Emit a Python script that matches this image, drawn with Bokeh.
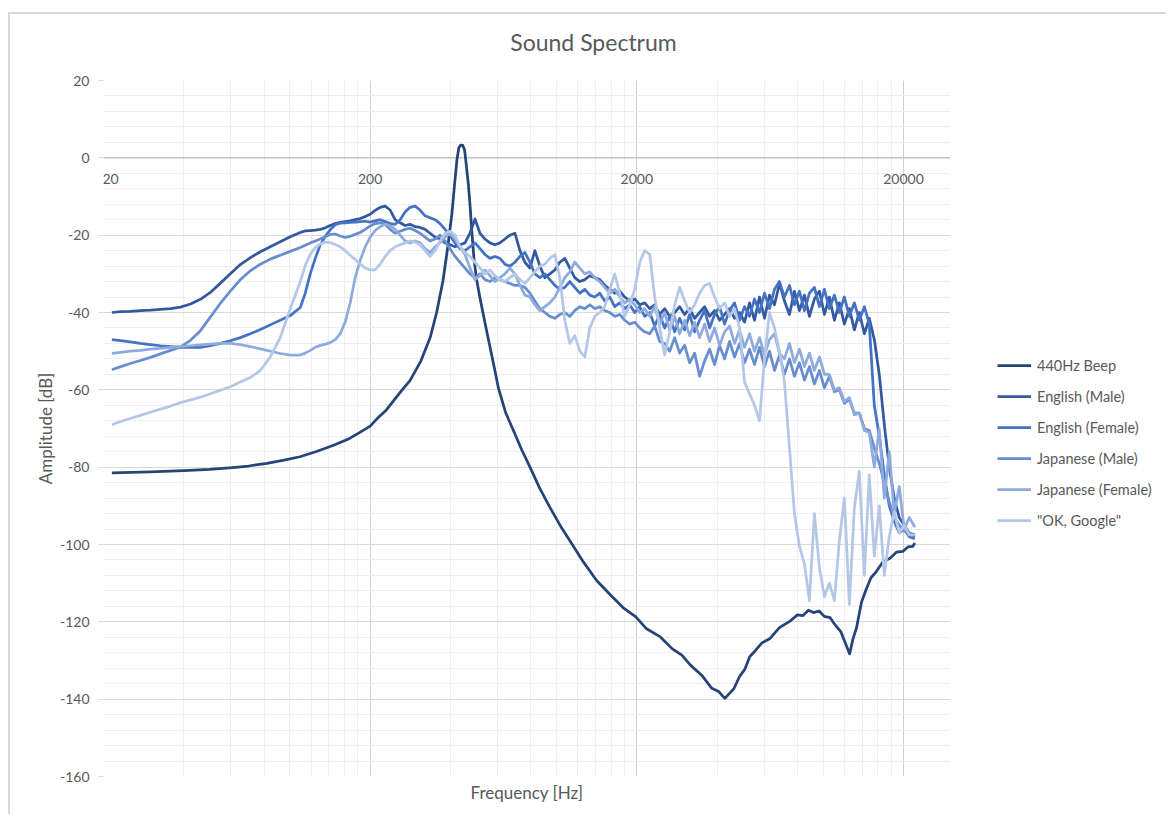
from bokeh.plotting import figure
from bokeh.layouts import column, row
from bokeh.models import (FixedTicker, Legend, LegendItem, LabelSet, Label,
                          ColumnDataSource, Span)
from bokeh.core.properties import value
from bokeh.embed import file_html
from bokeh.resources import INLINE

# ---------------------------------------------------------------- data
title_text = "Sound Spectrum"
x_title = "Frequency [Hz]"
y_title = "Amplitude [dB]"

x_major_ticks = [20, 200, 2000, 20000]
x_tick_labels = ["20", "200", "2000", "20000"]
x_minor_ticks = [40, 60, 80, 100, 120, 140, 160, 180,
                 400, 600, 800, 1000, 1200, 1400, 1600, 1800,
                 4000, 6000, 8000, 10000, 12000, 14000, 16000, 18000]
y_major_ticks = [-160, -140, -120, -100, -80, -60, -40, -20, 0, 20]
y_minor_ticks = [v for v in range(-160, 21, 4)]

# 440 Hz test tone
beep_hz = [21.5, 30, 40, 50, 61, 70, 82, 95, 109, 125,
           145, 165, 183, 200, 212, 230, 245, 265, 282, 310,
           336, 355, 375, 390, 405, 415, 423, 430, 437, 445,
           452, 458, 467, 474, 481, 490, 500, 517, 540, 563,
           585, 605, 645, 689, 740, 795, 865, 944, 1030, 1122,
           1260, 1413, 1600, 1774, 1983, 2174, 2450, 2717, 2950, 3177,
           3500, 3820, 4050, 4276, 4450, 4620, 4850, 5076, 5300, 5571,
           5900, 6295, 6850, 7480, 8000, 8375, 8800, 9190, 9650, 10090,
           10600, 11080, 11650, 12170, 12560, 12900, 13340, 13900, 14500, 15100,
           15810, 16700, 17740, 18800, 19870, 20800, 21670, 22050]
beep_db = [-81.5, -81.2, -80.9, -80.6, -80.1, -79.7, -79.0, -78.2, -77.3, -76.0,
           -74.4, -72.8, -71.0, -69.4, -67.5, -65.2, -62.8, -59.8, -57.6, -52.5,
           -46.4, -40.0, -31.8, -23.5, -14.5, -6.5, -0.5, 2.6, 3.3, 3.2,
           2.0, -1.5, -7.0, -12.5, -19.0, -26.0, -31.0, -36.5, -43.0, -49.0,
           -54.5, -59.5, -66.0, -70.5, -75.5, -80.0, -85.5, -90.4, -95.0, -99.0,
           -104.5, -109.3, -113.2, -116.3, -118.7, -121.8, -123.9, -127.0, -128.6, -131.2,
           -133.8, -137.2, -138.0, -139.8, -138.5, -137.3, -134.2, -132.3, -129.0, -127.4,
           -125.4, -124.4, -121.5, -119.9, -118.2, -118.4, -117.0, -117.6, -117.2, -118.6,
           -118.9, -120.8, -122.6, -125.9, -128.3, -124.6, -121.4, -115.0, -111.5, -108.6,
           -107.0, -104.6, -103.6, -102.0, -101.8, -100.6, -100.5, -99.6]

# common frequency bins of the voice recordings
freq_hz = [21.5, 23.2, 25.2, 27.5, 30.0, 32.7, 35.7, 38.9, 42.4, 46.2,
           50.3, 54.9, 59.8, 65.2, 71.1, 77.5, 84.4, 92.0, 100.3,
           109.4, 114.2, 119.2, 124.5, 130.0, 135.7, 141.6, 147.9, 154.4, 161.2,
           168.3, 175.7, 183.5, 191.6, 200.0, 208.8, 218.0, 227.6, 237.6, 248.1,
           259.0, 270.4, 282.3, 294.7, 307.7, 321.3, 335.4, 350.2, 365.6, 381.7,
           398.5, 416.1, 434.4, 453.5, 473.5, 494.4, 516.1, 538.9, 562.6, 587.4,
           613.2, 640.2, 668.4, 697.9, 728.6, 760.7, 794.2, 829.2, 865.7, 903.8,
           943.6, 985.2, 1028.5, 1073.8, 1121, 1170, 1222, 1276, 1332, 1391,
           1452, 1516, 1583, 1652, 1725, 1801, 1881, 1963, 2050, 2140,
           2235, 2333, 2436, 2543, 2655, 2772, 2894, 3022, 3155, 3294,
           3439, 3590, 3748, 3913, 4086, 4266, 4453, 4649, 4854, 5068,
           5291, 5524, 5767, 6021, 6286, 6563, 6852, 7153, 7469, 7797,
           8141, 8499, 8874, 9264, 9673, 10100, 10540, 11010, 11490, 12000,
           12530, 13080, 13650, 14260, 14880, 15540, 16220, 16940, 17680, 18460,
           19270, 20120, 21010, 22050]

english_male_db = [-40.0, -39.8, -39.7, -39.5, -39.4, -39.2, -39.0, -38.6, -37.8, -36.6,
                   -34.8, -32.4, -30.0, -27.6, -25.8, -24.3, -23.0, -21.7, -20.4,
                   -19.3, -18.9, -18.8, -18.7, -18.5, -18.1, -17.5, -17.0, -16.7, -16.5,
                   -16.3, -16.0, -15.7, -15.2, -14.6, -13.6, -12.8, -12.5, -13.5, -16.0,
                   -16.8, -17.5, -17.2, -17.8, -18.0, -18.5, -19.5, -20.5, -21.0, -22.0,
                   -22.5, -23.0, -22.5, -22.0, -19.5, -15.8, -19.5, -21.0, -22.0, -22.5,
                   -22.0, -21.0, -20.0, -19.5, -24.0, -27.0, -28.5, -24.0, -28.0, -31.0,
                   -30.0, -29.0, -27.0, -26.0, -28.5, -31.0, -32.0, -31.5, -30.5, -31.0,
                   -31.5, -33.0, -34.0, -35.0, -34.5, -36.0, -37.0, -36.5, -38.0, -37.5,
                   -39.0, -38.0, -40.5, -39.0, -41.0, -40.0, -38.5, -40.5, -39.0, -41.5,
                   -40.0, -38.5, -41.0, -39.5, -42.0, -40.5, -39.0, -41.5, -40.0, -42.5,
                   -37.5, -42.0, -36.0, -41.5, -35.5, -38.0, -32.5, -37.0, -40.5, -34.5,
                   -39.5, -35.5, -41.0, -36.5, -34.5, -40.5, -36.0, -42.0, -37.5, -43.0,
                   -39.0, -44.5, -40.0, -45.5, -41.5, -47.0, -56.0, -69.0, -80.0, -88.0,
                   -93.0, -95.0, -97.0, -98.0]

english_female_db = [-47.0, -47.3, -47.6, -48.0, -48.3, -48.6, -48.8, -49.0, -49.0, -49.0,
                     -48.6, -48.0, -47.3, -46.5, -45.5, -44.4, -43.2, -42.0, -40.8,
                     -38.7, -35.0, -30.0, -26.0, -22.5, -20.3, -18.6, -17.3, -16.9, -16.8,
                     -16.7, -16.6, -16.5, -16.4, -16.6, -16.3, -16.0, -16.5, -17.0, -17.2,
                     -16.0, -14.0, -12.8, -12.5, -13.5, -15.0, -15.5, -16.0, -17.0, -18.5,
                     -20.0, -22.0, -23.5, -24.0, -23.0, -22.0, -23.5, -25.0, -26.0, -25.5,
                     -26.0, -27.5, -28.0, -27.0, -25.5, -24.5, -27.0, -30.0, -31.0, -30.0,
                     -31.5, -33.0, -34.0, -33.5, -32.0, -33.5, -35.0, -34.0, -35.5, -36.0,
                     -35.0, -37.0, -36.0, -38.5, -37.5, -39.0, -38.0, -40.0, -38.5, -41.0,
                     -40.0, -43.5, -40.5, -44.0, -41.0, -45.0, -41.5, -44.5, -40.5, -45.0,
                     -42.0, -39.5, -44.0, -40.5, -38.5, -43.0, -39.5, -37.5, -42.0, -38.5,
                     -41.0, -36.5, -40.0, -35.0, -39.0, -34.0, -32.0, -36.0, -33.0, -38.0,
                     -34.5, -39.5, -35.0, -33.5, -38.5, -34.0, -39.0, -35.5, -40.0, -36.0,
                     -41.0, -37.5, -42.0, -38.5, -43.0, -64.0, -72.0, -82.0, -90.0, -94.0,
                     -97.0, -96.0, -98.0, -98.5]

japanese_male_db = [-54.8, -54.0, -53.2, -52.4, -51.6, -50.7, -49.8, -48.9, -47.2, -44.7,
                    -41.2, -37.6, -34.5, -31.5, -29.2, -27.5, -26.2, -25.2, -24.2,
                    -23.2, -22.6, -22.0, -21.5, -21.0, -20.4, -19.8, -19.7, -20.2, -20.6,
                    -20.3, -19.8, -19.3, -18.5, -17.6, -17.0, -16.8, -17.2, -18.5, -19.5,
                    -19.0, -18.5, -18.2, -18.8, -19.5, -20.5, -21.5, -21.0, -20.0, -21.5,
                    -23.5, -25.5, -27.0, -28.5, -30.0, -31.0, -30.0, -31.5, -32.0, -31.0,
                    -31.5, -32.0, -32.5, -33.0, -33.0, -33.5, -35.0, -37.0, -39.0, -40.0,
                    -41.0, -41.5, -40.5, -40.0, -41.0, -39.5, -38.5, -39.0, -38.0, -39.0,
                    -38.5, -39.5, -40.0, -41.0, -40.5, -42.0, -43.0, -42.5, -44.0, -45.0,
                    -45.5, -43.5, -47.5, -48.0, -50.0, -46.5, -50.5, -48.5, -53.0, -50.5,
                    -56.5, -52.5, -49.5, -53.5, -48.5, -52.0, -47.5, -51.5, -48.0, -53.0,
                    -49.5, -53.5, -49.0, -54.0, -50.0, -55.0, -51.0, -56.0, -52.0, -56.5,
                    -53.0, -57.5, -54.0, -58.5, -55.0, -59.5, -56.5, -60.5, -60.0, -63.5,
                    -62.5, -66.0, -66.0, -70.0, -70.5, -75.0, -79.0, -84.0, -89.0, -93.0,
                    -95.0, -96.5, -97.0, -97.5]

japanese_female_db = [-50.6, -50.3, -50.0, -49.8, -49.5, -49.3, -49.0, -48.8, -48.6, -48.4,
                      -48.2, -48.0, -48.0, -48.3, -48.8, -49.4, -50.0, -50.6, -51.0,
                      -51.0, -50.5, -49.8, -49.0, -48.5, -48.2, -47.8, -47.0, -45.5, -42.5,
                      -37.5, -31.0, -26.5, -23.0, -20.5, -18.8, -17.8, -17.2, -17.5, -18.5,
                      -20.0, -21.5, -22.0, -21.5, -22.0, -23.5, -24.5, -23.0, -22.0, -20.5,
                      -19.5, -21.0, -23.0, -25.0, -28.5, -31.5, -30.5, -29.0, -30.5, -32.0,
                      -31.0, -30.0, -28.5, -30.0, -33.0, -35.5, -36.0, -38.0, -39.5, -38.5,
                      -37.5, -36.0, -33.5, -31.0, -29.5, -27.0, -28.5, -30.0, -29.5, -31.0,
                      -32.0, -33.5, -35.0, -34.0, -36.0, -37.5, -36.5, -38.0, -40.0, -39.0,
                      -41.0, -38.5, -43.0, -40.0, -44.5, -41.0, -45.5, -42.0, -46.0, -42.5,
                      -46.5, -43.0, -47.5, -44.0, -48.5, -45.0, -43.5, -48.0, -44.5, -49.0,
                      -45.5, -50.0, -46.5, -51.0, -47.0, -45.5, -50.5, -52.0, -48.0, -53.0,
                      -49.5, -54.0, -50.5, -55.0, -51.5, -56.0, -56.0, -60.0, -59.5, -63.0,
                      -62.0, -66.5, -66.0, -70.5, -71.0, -80.0, -70.0, -88.0, -76.0, -92.0,
                      -85.0, -96.0, -93.0, -95.5]

ok_google_db = [-69.0, -68.2, -67.4, -66.6, -65.8, -65.0, -64.2, -63.3, -62.6, -61.9,
                -61.0, -60.1, -59.2, -58.0, -56.8, -55.0, -51.5, -46.5, -39.0,
                -32.0, -27.8, -25.0, -23.2, -22.3, -21.8, -21.9, -22.4, -23.0, -24.0,
                -25.2, -26.3, -27.5, -28.5, -29.0, -29.0, -27.5, -25.5, -24.0, -23.0,
                -22.5, -22.0, -21.5, -21.8, -22.5, -24.0, -25.5, -24.0, -21.5, -19.5,
                -19.0, -20.0, -23.0, -24.5, -25.5, -27.0, -28.5, -30.0, -29.0, -30.5,
                -31.5, -32.0, -31.0, -30.0, -31.5, -32.5, -31.0, -29.5, -28.0, -27.5,
                -26.0, -25.0, -31.0, -42.0, -48.0, -46.0, -50.0, -51.5, -44.0, -41.0,
                -40.0, -38.5, -34.0, -30.0, -35.0, -41.0, -38.0, -34.0, -27.0, -24.0,
                -25.0, -36.0, -44.0, -51.0, -45.0, -38.0, -33.5, -37.0, -40.0, -38.0,
                -35.0, -33.0, -32.5, -36.0, -39.0, -37.5, -41.0, -39.0, -44.0, -58.0,
                -61.0, -64.0, -68.0, -52.0, -40.0, -44.0, -50.0, -58.0, -75.0, -92.0,
                -100.5, -105.0, -114.5, -92.0, -106.0, -113.5, -110.0, -114.5, -99.0, -88.0,
                -115.5, -90.5, -81.0, -108.0, -82.0, -103.0, -90.0, -108.0, -98.0, -91.5,
                -97.0, -95.0, -97.5, -97.6]

series_names = ["440Hz Beep", "English (Male)", "English (Female)",
                "Japanese (Male)", "Japanese (Female)", "\"OK, Google\""]
series_colors = ["#264478", "#335AA1", "#4472C4", "#698ED0", "#8FAADC", "#B4C7E7"]

# ---------------------------------------------------------------- styling
FONT = "Lato"
TEXT = "#595959"
LINE_W = 2.75


def bare(fig):
    fig.grid.visible = False
    fig.outline_line_color = None
    fig.background_fill_color = "white"
    fig.border_fill_color = "white"


# title strip
p_title = figure(width=1158, height=52, output_backend="svg", toolbar_location=None,
                 min_border=0, x_axis_location=None, y_axis_location=None,
                 x_range=(0, 1), y_range=(0, 1))
bare(p_title)
p_title.add_layout(Label(x=583, y=25, x_units="screen", y_units="screen",
                         text=title_text, text_align="center", text_baseline="middle",
                         text_font=FONT, text_font_size="23px", text_color=TEXT))

# main plot
p = figure(width=940, height=750, x_axis_type="log",
           x_range=(20, 30000), y_range=(-160, 20),
           output_backend="svg", toolbar_location=None,
           min_border_left=93, min_border_right=0,
           min_border_top=14, min_border_bottom=40)
p.outline_line_color = None
p.background_fill_color = "white"
p.border_fill_color = "white"

p.xgrid.ticker = FixedTicker(ticks=x_major_ticks, minor_ticks=x_minor_ticks)
p.xgrid.grid_line_color = "#cfcfcf"
p.xgrid.minor_grid_line_color = "#efefef"
p.ygrid.grid_line_color = "#d9d9d9"
p.ygrid.minor_grid_line_color = "#eeeeee"

p.yaxis.ticker = FixedTicker(ticks=y_major_ticks, minor_ticks=y_minor_ticks)
p.yaxis.major_label_overrides = {v: str(v) for v in y_major_ticks}
p.yaxis.axis_line_color = None
p.yaxis.major_tick_line_color = "#d9d9d9"
p.yaxis.major_tick_out = 5
p.yaxis.major_tick_in = 0
p.yaxis.minor_tick_out = 0
p.yaxis.minor_tick_in = 0
p.yaxis.major_label_standoff = 9
p.yaxis.major_label_text_font = FONT
p.yaxis.major_label_text_font_size = "14px"
p.yaxis.major_label_text_color = TEXT
p.yaxis.axis_label = y_title
p.yaxis.axis_label_text_font = FONT
p.yaxis.axis_label_text_font_size = "17px"
p.yaxis.axis_label_text_font_style = "normal"
p.yaxis.axis_label_text_color = TEXT
p.yaxis.axis_label_standoff = 1

# x axis: only its title below the plot area, tick labels sit on the 0 dB line
p.xaxis.ticker = FixedTicker(ticks=[])
p.xaxis.axis_line_color = None
p.xaxis.major_tick_line_color = None
p.xaxis.minor_tick_line_color = None
p.xaxis.major_tick_out = 0
p.xaxis.major_label_standoff = 0
p.xaxis.axis_label = x_title
p.xaxis.axis_label_text_font = FONT
p.xaxis.axis_label_text_font_size = "17px"
p.xaxis.axis_label_text_font_style = "normal"
p.xaxis.axis_label_text_color = TEXT
p.xaxis.axis_label_standoff = 5

p.add_layout(Span(location=0, dimension="width", line_color="#bfbfbf",
                  line_width=1.3, level="underlay"))

# the first label would be cut by the plot edge, so nudge it inward
label_dx = [7] + [0] * (len(x_major_ticks) - 1)
tick_src = ColumnDataSource(dict(x=x_major_ticks, y=[0] * len(x_major_ticks),
                                 text=x_tick_labels, dx=label_dx))
p.add_layout(LabelSet(x="x", y="y", text="text", source=tick_src,
                      x_offset="dx", y_offset=-21,
                      text_align="center", text_baseline="middle",
                      text_font=value(FONT), text_font_size=value("14px"),
                      text_color=TEXT))

all_db = [beep_db, english_male_db, english_female_db,
          japanese_male_db, japanese_female_db, ok_google_db]
for i, (color, ys) in enumerate(zip(series_colors, all_db)):
    xs = beep_hz if i == 0 else freq_hz
    p.line(xs, ys, line_color=color, line_width=LINE_W, line_join="round")

# legend strip on the right; its swatch renderers sit outside the visible range
p_leg = figure(width=218, height=750, output_backend="svg", toolbar_location=None,
               min_border=0, x_axis_location=None, y_axis_location=None,
               x_range=(0, 1), y_range=(0, 1))
bare(p_leg)
items = []
for name, color in zip(series_names, series_colors):
    swatch = p_leg.line(x=[-3, -2], y=[-3, -2], line_color=color, line_width=LINE_W)
    items.append(LegendItem(label=name, renderers=[swatch]))
p_leg.add_layout(Legend(items=items, location=(47, 246), orientation="vertical",
                        glyph_width=34, glyph_height=20, label_height=20,
                        label_standoff=6, spacing=11, padding=0, margin=0,
                        label_text_font=FONT, label_text_font_size="14.5px",
                        label_text_color=TEXT, border_line_color=None,
                        background_fill_alpha=0))

layout = column(p_title, row(p, p_leg, spacing=0), spacing=0, margin=(14, 0, 0, 10))
layout.styles = {"box-shadow": "-2px -2px 0 0 #d9d9d9"}

open("out.html", "w").write(file_html(layout, INLINE))
